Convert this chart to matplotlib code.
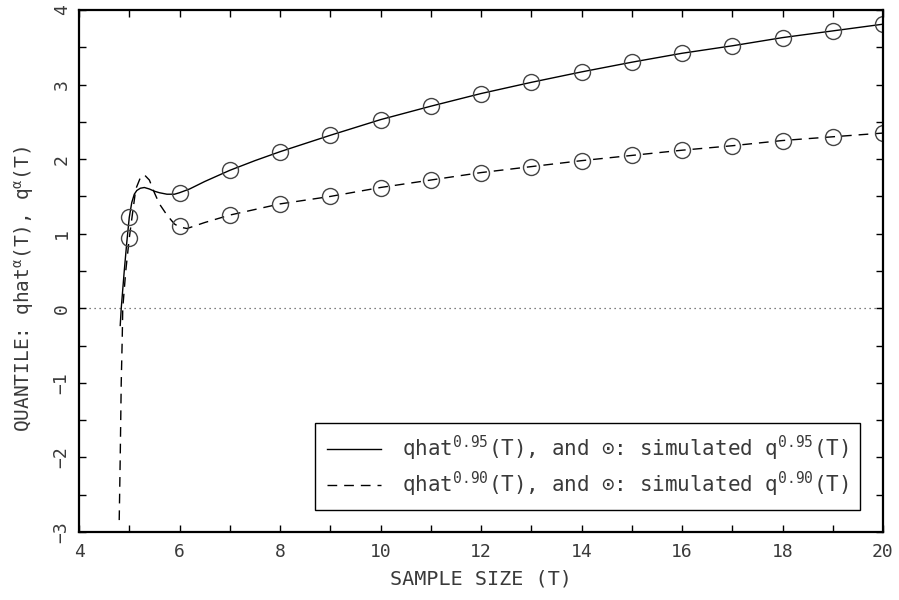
import numpy as np
import matplotlib
matplotlib.use("Agg")
import matplotlib.pyplot as plt
from matplotlib.ticker import MultipleLocator

# simulated quantiles (circles)
t_sim = [5, 6, 7, 8, 9, 10, 11, 12, 13, 14, 15, 16, 17, 18, 19, 20]
q95_sim = [1.22, 1.55, 1.85, 2.10, 2.32, 2.53, 2.71, 2.88, 3.03, 3.17, 3.30, 3.42, 3.52, 3.63, 3.72, 3.81]
q90_sim = [0.94, 1.10, 1.25, 1.40, 1.50, 1.62, 1.72, 1.82, 1.90, 1.98, 2.05, 2.12, 2.18, 2.25, 2.30, 2.35]

# qhat curves
t_hat95 = [4.82, 4.84, 4.87, 4.90, 4.95, 5.0, 5.05, 5.1, 5.15, 5.22, 5.3, 5.4, 5.5, 5.6, 5.75,
           5.9, 6.0, 6.2, 6.5, 6.8, 7, 7.5, 8, 9, 10, 11, 12, 13, 14, 15, 16, 17, 18, 19, 20]
q95_hat = [-0.23, 0.0, 0.25, 0.50, 0.88, 1.22, 1.42, 1.53, 1.58, 1.61, 1.62, 1.60, 1.57, 1.55, 1.53,
           1.53, 1.55, 1.60, 1.70, 1.79, 1.85, 1.98, 2.10, 2.32, 2.53, 2.71, 2.88, 3.03, 3.17, 3.30,
           3.42, 3.52, 3.63, 3.72, 3.81]

t_hat90 = [4.80, 4.82, 4.84, 4.86, 4.87, 4.93, 5.0, 5.07, 5.13, 5.22, 5.3, 5.4, 5.5, 5.6, 5.75,
           5.9, 6.0, 6.15, 6.5, 7, 8, 9, 10, 11, 12, 13, 14, 15, 16, 17, 18, 19, 20]
q90_hat = [-2.84, -2.0, -1.0, -0.4, 0.0, 0.5, 0.94, 1.30, 1.60, 1.75, 1.79, 1.72, 1.55, 1.40, 1.25,
           1.13, 1.09, 1.07, 1.15, 1.25, 1.40, 1.50, 1.62, 1.72, 1.82, 1.90, 1.98, 2.05, 2.12,
           2.18, 2.25, 2.30, 2.35]

plt.rcParams["font.family"] = ["DejaVu Sans Mono", "DejaVu Sans"]
plt.rcParams["mathtext.fontset"] = "custom"
plt.rcParams["mathtext.rm"] = "DejaVu Sans Mono"
plt.rcParams["mathtext.it"] = "DejaVu Sans Mono"
plt.rcParams["text.color"] = "#3a3a3a"
plt.rcParams["axes.labelcolor"] = "#3a3a3a"

fig = plt.figure(figsize=(8.99, 6.0), dpi=100)
ax = fig.add_axes([0.0879, 0.1133, 0.8943, 0.87])

ax.axhline(0, color="#555555", lw=0.9, ls=(0, (1, 3)), zorder=1)

l1, = ax.plot(t_hat95, q95_hat, color="black", lw=1.0)
l2, = ax.plot(t_hat90, q90_hat, color="black", lw=1.0, ls=(0, (7, 5)))
ax.plot(t_sim, q95_sim, ls="none", marker="o", ms=11.5, mfc="none", mec="#444444", mew=1.0)
ax.plot(t_sim, q90_sim, ls="none", marker="o", ms=11.5, mfc="none", mec="#444444", mew=1.0)

ax.set_xlim(4, 20)
ax.set_ylim(-3, 4)
ax.xaxis.set_major_locator(MultipleLocator(2))
ax.xaxis.set_minor_locator(MultipleLocator(1))
ax.yaxis.set_major_locator(MultipleLocator(1))
ax.yaxis.set_minor_locator(MultipleLocator(0.5))
ax.tick_params(which="both", direction="in", top=True, right=True, length=5, width=1.0,
               labelsize=13, colors="black", labelcolor="#3a3a3a")
ax.tick_params(axis="x", pad=8)
ax.tick_params(axis="y", labelrotation=90, pad=6)
for lab in ax.get_yticklabels():
    lab.set_va("center")
for s in ax.spines.values():
    s.set_linewidth(1.6)

ax.set_xlabel("SAMPLE SIZE (T)", fontsize=14.5, labelpad=6)
ax.set_ylabel(r"QUANTILE: qhat$^{\alpha}$(T), q$^{\alpha}$(T)", fontsize=14)
ax.yaxis.set_label_coords(-0.054, 0.466)

leg = ax.legend([l1, l2],
                [r"qhat$^{0.95}$(T), and ⊙: simulated q$^{0.95}$(T)",
                 r"qhat$^{0.90}$(T), and ⊙: simulated q$^{0.90}$(T)"],
                loc="lower right", bbox_to_anchor=(0.9715, 0.042), fontsize=15,
                frameon=True, fancybox=False, edgecolor="black", framealpha=1,
                handlelength=2.6, handletextpad=1.0, borderpad=0.55, labelspacing=0.3,
                borderaxespad=0)
leg.get_frame().set_linewidth(1.0)

fig.savefig("out.png", dpi=100)
